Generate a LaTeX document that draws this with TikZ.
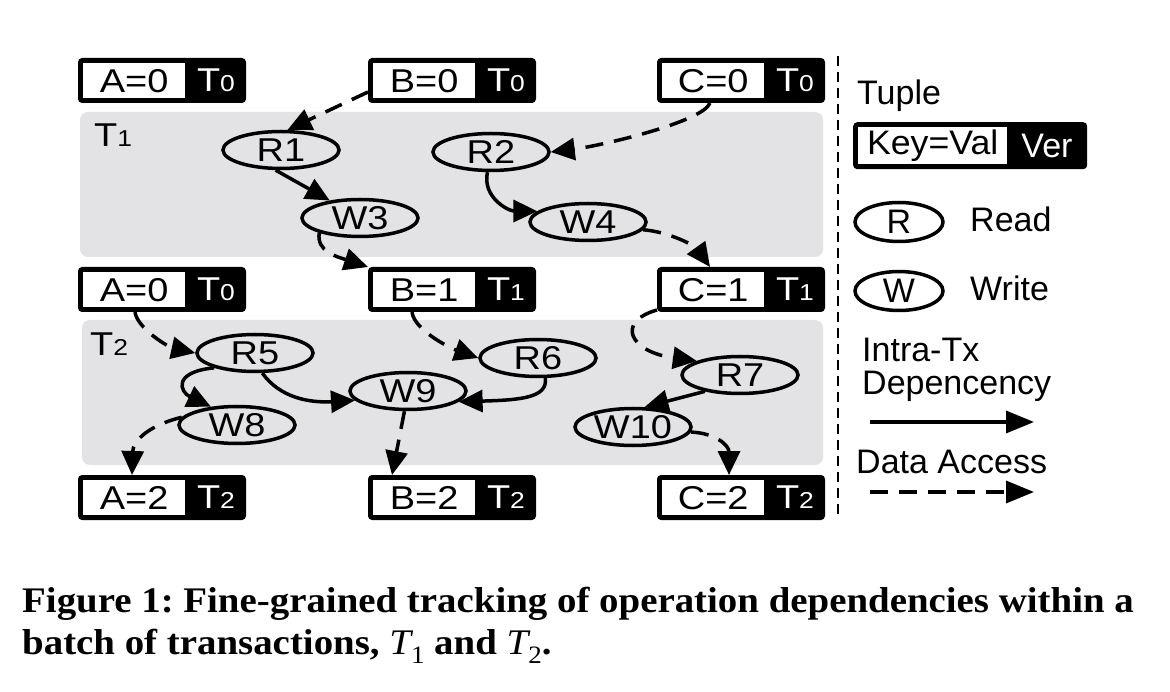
\documentclass[tikz,border=0pt]{standalone}
\usepackage{fontspec}
\setmainfont{Liberation Serif}
\newfontfamily\hv{Liberation Sans}
\usetikzlibrary{arrows.meta,calc,shapes.geometric}
\definecolor{panelgray}{RGB}{227,227,229}
\newcommand\sx[1]{\scalebox{1.15}[1]{#1}}
\newcommand\vsub[2]{\sx{#1{\fontsize{23}{23}\selectfont #2}}}
\newcommand\capT[1]{{\mdseries\itshape T}\raisebox{-0.25em}{\mdseries\fontsize{25}{25}\selectfont #1}}
\newcommand\tuplebox[5]{%
  \node[tupbox, anchor=north west] (#1) at (#2,#3) {};
  \node[tupkey, anchor=north west] (#1-k) at ($(#1.north west)+(5,5)$) {\sx{#4}};
  \node[tupver] (#1-v) at ($(#1.north west)+(138,22.5)$) {#5};
}
\begin{document}
\frenchspacing
\begin{tikzpicture}[x=1pt,y=-1pt,
  mainfont/.style={font=\hv\fontsize{33}{33}\selectfont},
  legfont/.style={font=\hv\fontsize{34}{34}\selectfont},
  tupbox/.style={fill=black, rounded corners=4pt, minimum width=168pt, minimum height=45pt, inner sep=0pt, outer sep=0pt},
  tupkey/.style={fill=white, minimum width=102pt, minimum height=35pt, inner sep=0pt, mainfont},
  tupver/.style={text=white, inner sep=0pt, mainfont},
  op/.style={ellipse, draw, line width=3.5pt, minimum width=116pt, minimum height=37pt, inner sep=0pt, mainfont},
  dep/.style={line width=3.5pt, -{Triangle[length=24pt,width=22pt]}},
  acc/.style={dep, dash pattern=on 18pt off 11pt},
  panel/.style={fill=panelgray, rounded corners=8pt},
  lbl/.style={anchor=base west, inner sep=0pt}
]
\useasboundingbox (0,0) rectangle (1170,692);

% panels
\fill[panel] (80,112) rectangle (823,257);
\fill[panel] (82,320) rectangle (823,465);
\node[lbl, mainfont] (t1lbl) at (94,147) {\vsub{T}{1}};
\node[lbl, mainfont] (t2lbl) at (90,356) {\vsub{T}{2}};

% tuples
\tuplebox{A0}{78}{58}{A=0}{\vsub{T}{0}}
\tuplebox{B0}{368}{58}{B=0}{\vsub{T}{0}}
\tuplebox{C0}{657}{58}{C=0}{\vsub{T}{0}}
\tuplebox{A0b}{78}{267}{A=0}{\vsub{T}{0}}
\tuplebox{B1}{368}{267}{B=1}{\vsub{T}{1}}
\tuplebox{C1}{657}{267}{C=1}{\vsub{T}{1}}
\tuplebox{A2}{78}{475}{A=2}{\vsub{T}{2}}
\tuplebox{B2}{368}{475}{B=2}{\vsub{T}{2}}
\tuplebox{C2}{657}{475}{C=2}{\vsub{T}{2}}

% operations
\node[op] (R1) at (281,150) {\sx{R1}};
\node[op] (W3) at (360,218) {\sx{W3}};
\node[op] (R2) at (491,152) {\sx{R2}};
\node[op] (W4) at (588,222) {\sx{W4}};
\node[op] (R5) at (255,353) {\sx{R5}};
\node[op] (W8) at (237,425) {\sx{W8}};
\node[op] (W9) at (408,391) {\sx{W9}};
\node[op] (R6) at (538,358) {\sx{R6}};
\node[op] (R7) at (740,375) {\sx{R7}};
\node[op] (W10) at (633,427) {\sx{W10}};

% T1 connectors
\draw[acc] ($(B0.south west)+(0,-11)$) -- (R1.72);
\draw[dep] (R1.-105) -- (W3.150);
\draw[acc] (W3.200) .. controls (316,252) and (338,257) .. (B1.north west);
\draw[acc] ($(C0.south west)+(53,0)$) .. controls (703,122) and (600,146) .. (R2.east);
\draw[dep] (R2.-100) .. controls (482,197) and (508,211) .. (W4.168);
\draw[acc] (W4.-8) .. controls (670,232) and (695,246) .. ($(C1.north west)+(53,0)$);

% T2 connectors
\draw[acc] ($(A0b.south west)+(57,0)$) .. controls (137,328) and (168,347) .. (R5.west);
\draw[acc] ($(B1.south west)+(44,0)$) .. controls (414,330) and (450,348) .. (R6.west);
\draw[acc] ($(C1.south west)+(0,-2)$) .. controls (615,322) and (630,352) .. (R7.162);
\draw[dep] (R5.200) .. controls (172,372) and (180,392) .. (W8.145);
\draw[dep] (R5.-70) .. controls (280,398) and (310,403) .. (W9.190);
\draw[dep] (R6.-70) .. controls (548,398) and (520,400) .. (W9.-12);
\draw[acc] (W8.172) .. controls (150,425) and (133,440) .. ($(A2.north west)+(54,0)$);
\draw[acc] (W9.-100) -- ($(B2.north west)+(24,0)$);
\draw[dep] (R7.205) -- (W10.60);
\draw[acc] (W10.-5) .. controls (715,433) and (729,445) .. ($(C2.north west)+(72,0)$);

% separator
\coordinate (sepT) at (838,56);
\coordinate (sepB) at (838,518);
\draw[line width=2.3pt, dash pattern=on 10pt off 6pt] (sepT) -- (sepB);

% legend
\node[lbl, legfont] (tuple) at (857,105) {Tuple};
\node[fill=black, rounded corners=4pt, minimum width=234pt, minimum height=47pt, inner sep=0pt, anchor=north west] (legbox) at (853,122) {};
\node[fill=white, minimum width=149pt, minimum height=37pt, inner sep=0pt, anchor=north west, legfont] (legkey) at ($(legbox.north west)+(5,5)$) {\scalebox{1.05}[1]{Key=Val}};
\node[text=white, inner sep=0pt, legfont] (legver) at ($(legbox.north west)+(194,23.5)$) {Ver};
\node[ellipse, draw, line width=3.5pt, minimum width=88pt, minimum height=39pt, inner sep=0pt, legfont] (legR) at (899,222) {R};
\node[lbl, legfont] (read) at (970,232) {Read};
\node[ellipse, draw, line width=3.5pt, minimum width=88pt, minimum height=39pt, inner sep=0pt, legfont] (legW) at (899,291) {W};
\node[lbl, legfont] (write) at (970,301) {Write};
\node[lbl, legfont] (intra) at (862,362) {Intra-Tx};
\node[lbl, legfont] (depc) at (862,395) {Depencency};
\coordinate (depA) at (870,422);
\coordinate (depB) at (1034,422);
\draw[dep, -{Triangle[length=28pt,width=22pt]}] (depA) -- (depB);
\node[lbl, legfont] (data) at (856,473) {Data Access};
\coordinate (accA) at (870,492);
\coordinate (accB) at (1034,492);
\draw[acc, -{Triangle[length=28pt,width=22pt]}] (accA) -- (accB);

% caption
\node[lbl, font=\bfseries\fontsize{36}{36}\selectfont] (cap1) at (22,612) {\scalebox{1.08}[1]{Figure 1: Fine-grained tracking of operation dependencies within a}};
\node[lbl, font=\bfseries\fontsize{36}{36}\selectfont] (cap2) at (22,654) {\scalebox{1.08}[1]{batch of transactions, \capT{1} and \capT{2}.}};
\end{tikzpicture}
\end{document}
